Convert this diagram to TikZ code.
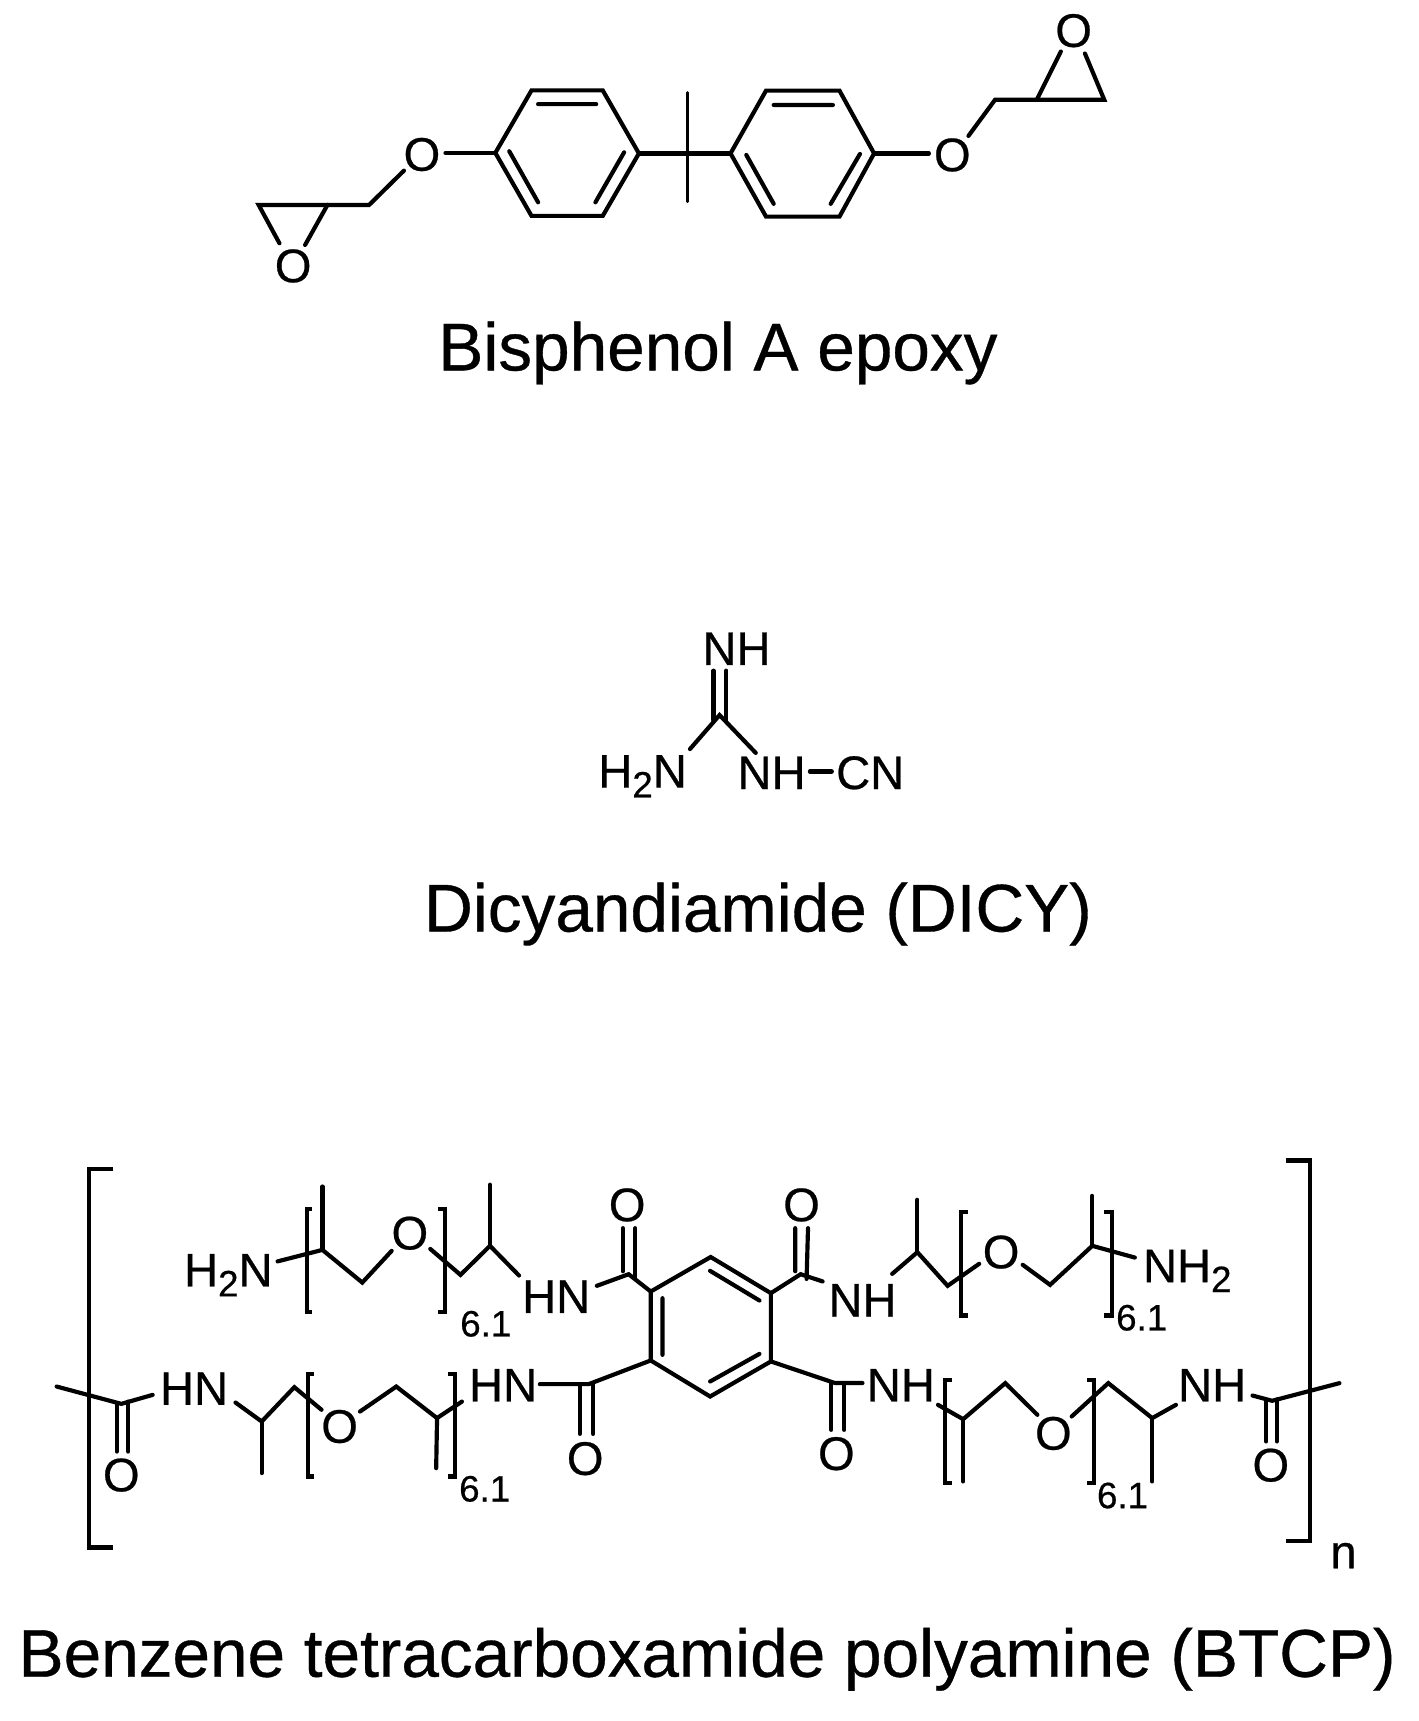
\documentclass[tikz,border=0pt]{standalone}
\usepackage{fontspec}
\setmainfont{Liberation Sans}[FakeBold=0.5,AutoFakeBold=0.5]
\newfontfamily\hvy{Liberation Sans}[RawFeature={embolden=0.5}]
\newcommand{\lblfont}{\hvy\fontsize{43}{43}\selectfont}
\newcommand{\subfont}{\hvy\fontsize{33.5}{33.5}\selectfont}
\newcommand{\ttlfont}{\hvy\fontsize{61.6}{61.6}\selectfont}
\newcommand{\subtwo}{\raisebox{-9pt}{\subfont 2}}
\tikzset{
  bond/.style={draw=black,line width=3.8pt,line cap=round,line join=miter},
  atom/.style={inner sep=0pt,outer sep=0pt,font=\lblfont,anchor=base west},
  oxy/.style={inner sep=0pt,outer sep=0pt,font=\lblfont,anchor=center},
  rpt/.style={inner sep=0pt,outer sep=0pt,font=\subfont,anchor=base west},
  ttl/.style={inner sep=0pt,outer sep=0pt,font=\ttlfont,anchor=base west}
}
\begin{document}
\begin{tikzpicture}[x=1pt,y=-1pt]
\useasboundingbox[fill=white] (0,0) rectangle (1294,1570.4);
% ---------- Bisphenol A epoxy ----------
\coordinate (a1) at (452,139.5);\coordinate (a2) at (485,82.5);\coordinate (a3) at (550,82.5);
\coordinate (a4) at (583,140);\coordinate (a5) at (550,197);\coordinate (a6) at (485,197);
\coordinate (b1) at (666.6,140);\coordinate (b2) at (699,82.7);\coordinate (b3) at (766,82.7);
\coordinate (b4) at (797.6,140);\coordinate (b5) at (766,197.7);\coordinate (b6) at (699,197.7);
\coordinate (ai1) at (491,95);\coordinate (ai2) at (544,95);
\coordinate (ai3) at (464.7,138);\coordinate (ai4) at (491,184.6);
\coordinate (ai5) at (569.5,139);\coordinate (ai6) at (543.3,184.6);
\coordinate (bi1) at (706,95.8);\coordinate (bi2) at (760,95.8);
\coordinate (bi3) at (681,141.4);\coordinate (bi4) at (706,186);
\coordinate (bi5) at (784.7,140.5);\coordinate (bi6) at (758,186);
\coordinate (ct) at (627,84.6);\coordinate (cb) at (627,184);
\node[oxy] (oa) at (385,141) {O};
\node[oxy] (ob) at (869,141.4) {O};
\node[oxy] (oc) at (267.5,242.7) {O};
\node[oxy] (od) at (979.7,28) {O};
\coordinate (oar) at (406.5,139.5);\coordinate (oal) at (368.6,155.7);
\coordinate (ach) at (336.8,187);\coordinate (ae1) at (298.8,187);\coordinate (ae2) at (236,187);
\coordinate (ae1o) at (278.4,223.5);\coordinate (ae2o) at (255,222);
\coordinate (obl) at (847.6,140);\coordinate (obr) at (883.7,124);
\coordinate (bch) at (908,91);\coordinate (be1) at (946,91);\coordinate (be2) at (1007.6,91);
\coordinate (be1o) at (968,47);\coordinate (be2o) at (990,48.8);
\draw[bond] (a1)--(a2)--(a3)--(a4)--(a5)--(a6)--cycle;
\draw[bond] (b1)--(b2)--(b3)--(b4)--(b5)--(b6)--cycle;
\draw[bond] (ai1)--(ai2) (ai3)--(ai4) (ai5)--(ai6);
\draw[bond] (bi1)--(bi2) (bi3)--(bi4) (bi5)--(bi6);
\draw[bond] (a4)--(b1);
\draw[bond,line width=2.8pt] (ct)--(cb);
\draw[bond] (a1)--(oar);
\draw[bond] (oal)--(ach)--(ae1);
\draw[bond] (ae1)--(ae2)--(ae2o);
\draw[bond] (ae1)--(ae1o);
\draw[bond] (b4)--(obl);
\draw[bond] (obr)--(bch)--(be1)--(be2)--(be2o);
\draw[bond] (be1)--(be1o);
\node[ttl] (t1) at (400,338) {Bisphenol A epoxy};
% ---------- DICY ----------
\node[atom] (d1) at (641,606.8) {NH};
\node[atom] (d2) at (546,718.7) {H\subtwo N};
\node[atom] (d3) at (673,720) {NH};
\node[atom] (d4) at (763,720) {CN};
\coordinate (dc) at (656.6,652.5);
\coordinate (dl1) at (651,612);\coordinate (dl2) at (651,657);
\coordinate (dr1) at (662.7,612);\coordinate (dr2) at (662.7,657);
\coordinate (dh) at (629.6,683.5);\coordinate (dn) at (689.6,687);
\coordinate (dd1) at (739,704);\coordinate (dd2) at (759,704);
\draw[bond] (dl1)--(dl2) (dr1)--(dr2);
\draw[bond] (dh)--(dc)--(dn);
\draw[bond] (dd1)--(dd2);
\node[ttl] (t2) at (387,850) {Dicyandiamide (DICY)};
% ---------- BTCP brackets ----------
\coordinate (lb1) at (103,1067);\coordinate (lb2) at (81,1067);\coordinate (lb3) at (81,1412);\coordinate (lb4) at (103,1412);
\coordinate (rb1) at (1173.4,1059);\coordinate (rb2) at (1195,1059);\coordinate (rb3) at (1195,1406);\coordinate (rb4) at (1173.4,1406);
\draw[bond,line cap=butt] (lb1)--(lb2)--(lb3)--(lb4);
\draw[bond,line cap=butt] (rb1)--(rb2)--(rb3)--(rb4);
\node[atom] (nn) at (1214,1431) {n};
% ---------- central ring ----------
\coordinate (r1) at (593.8,1178.5);\coordinate (r2) at (648.5,1147);\coordinate (r3) at (703.4,1180);
\coordinate (r4) at (703.4,1242.3);\coordinate (r5) at (648,1274.3);\coordinate (r6) at (593.8,1241.4);
\coordinate (ri1) at (604.5,1184.6);\coordinate (ri2) at (604.5,1236.3);
\coordinate (ri3) at (647.9,1159.6);\coordinate (ri4) at (693,1186.7);
\coordinate (ri5) at (693,1235.4);\coordinate (ri6) at (648,1260.6);
\draw[bond] (r1)--(r2)--(r3)--(r4)--(r5)--(r6)--cycle;
\draw[bond] (ri1)--(ri2) (ri3)--(ri4) (ri5)--(ri6);
% ---------- upper left arm ----------
\node[atom] (e1) at (168,1173.9) {H\subtwo N};
\coordinate (e1b) at (253.3,1151);\coordinate (e2) at (294.2,1140.5);\coordinate (e2m) at (294.2,1082.7);
\coordinate (e3) at (330.6,1170.3);\coordinate (e3o) at (357.4,1141.4);
\node[oxy] (e4) at (374,1125.3) {O};
\coordinate (e4r) at (392.6,1139.6);\coordinate (e5) at (420.2,1163.3);\coordinate (e6) at (447.1,1136.8);
\coordinate (e6m) at (447.1,1081);\coordinate (e6h) at (473.6,1163.9);
\node[atom] (e7) at (476.5,1198) {HN};
\coordinate (e7b) at (544.6,1173.3);\coordinate (e8) at (573.6,1162.7);
\coordinate (e8a) at (568.2,1120.7);\coordinate (e8b) at (568.2,1160);\coordinate (e8c) at (579.8,1120.7);\coordinate (e8d) at (579.8,1167);
\node[oxy] (e9) at (572.3,1099.5) {O};
\draw[bond] (e1b)--(e2)--(e3)--(e3o);
\draw[bond] (e2)--(e2m);
\draw[bond] (e4r)--(e5)--(e6)--(e6h);
\draw[bond] (e6)--(e6m);
\draw[bond] (e7b)--(e8)--(r1);
\draw[bond] (e8a)--(e8b) (e8c)--(e8d);
\coordinate (eL1) at (285.1,1103);\coordinate (eL2) at (279.8,1103);\coordinate (eL3) at (279.8,1197.3);\coordinate (eL4) at (285.1,1197.3);
\coordinate (eR1) at (400,1103);\coordinate (eR2) at (406.2,1103);\coordinate (eR3) at (406.2,1197.3);\coordinate (eR4) at (400,1197.3);
\draw[bond,line cap=butt] (eL1)--(eL2)--(eL3)--(eL4);
\draw[bond,line cap=butt] (eR1)--(eR2)--(eR3)--(eR4);
\node[rpt] (e10) at (420,1219.5) {6.1};
% ---------- upper right arm ----------
\coordinate (f1) at (730.6,1162.7);
\coordinate (f1a) at (725.6,1120.7);\coordinate (f1b) at (725.6,1160);\coordinate (f1c) at (737.3,1120.7);\coordinate (f1d) at (736,1167);
\node[oxy] (f2) at (731.4,1099.5) {O};
\coordinate (f1n) at (750.6,1169.3);
\node[atom] (f3) at (756,1201.3) {NH};
\coordinate (f3r) at (814.1,1162.4);\coordinate (f4) at (837.1,1142.6);\coordinate (f4m) at (837.1,1094.8);
\coordinate (f5) at (864.7,1173.3);\coordinate (f5o) at (893.5,1153.2);
\node[oxy] (f6) at (913.5,1142.5) {O};
\coordinate (f6r) at (933.2,1154.1);\coordinate (f7) at (958.2,1172.4);\coordinate (f8) at (996.7,1136.8);
\coordinate (f8m) at (996.7,1091.2);\coordinate (f8n) at (1035.5,1147.5);
\node[atom] (f9) at (1043,1170) {NH\subtwo};
\draw[bond] (r3)--(f1)--(f1n);
\draw[bond] (f1a)--(f1b) (f1c)--(f1d);
\draw[bond] (f3r)--(f4)--(f5)--(f5o);
\draw[bond] (f4)--(f4m);
\draw[bond] (f6r)--(f7)--(f8)--(f8n);
\draw[bond] (f8)--(f8m);
\coordinate (fL1) at (883,1106);\coordinate (fL2) at (876.8,1106);\coordinate (fL3) at (876.8,1200.4);\coordinate (fL4) at (883,1200.4);
\coordinate (fR1) at (1007.5,1106);\coordinate (fR2) at (1014.6,1106);\coordinate (fR3) at (1014.6,1200.4);\coordinate (fR4) at (1007.5,1200.4);
\draw[bond,line cap=butt] (fL1)--(fL2)--(fL3)--(fL4);
\draw[bond,line cap=butt] (fR1)--(fR2)--(fR3)--(fR4);
\node[rpt] (f10) at (1018.5,1214) {6.1};
% ---------- lower left arm ----------
\coordinate (g0) at (51.7,1265.2);\coordinate (g1) at (110.7,1281);\coordinate (g1n) at (139.3,1272.8);
\coordinate (g1a) at (106.6,1281);\coordinate (g1b) at (106.6,1324.5);\coordinate (g1c) at (117,1279);\coordinate (g1d) at (117,1324.5);
\node[oxy] (g2) at (110.7,1346) {O};
\node[atom] (g3) at (146,1281.9) {HN};
\coordinate (g3r) at (214.9,1279.8);\coordinate (g4) at (238.8,1297.1);\coordinate (g4m) at (238.8,1344.2);
\coordinate (g5) at (268.6,1265.8);\coordinate (g5o) at (293.4,1286.4);
\node[oxy] (g6) at (309.9,1301.7) {O};
\coordinate (g6r) at (328.5,1288);\coordinate (g7) at (361.6,1265.2);\coordinate (g8) at (398.8,1294);
\coordinate (g8m) at (398,1339.7);\coordinate (g8n) at (421.5,1278.9);
\node[atom] (g9) at (428,1278.8) {HN};
\coordinate (g9r) at (492.6,1263);\coordinate (g10) at (537.2,1263);
\coordinate (g10a) at (529,1263);\coordinate (g10b) at (529,1308.4);\coordinate (g10c) at (541.3,1262);\coordinate (g10d) at (541.3,1308.4);
\node[oxy] (g11) at (534,1331) {O};
\draw[bond] (g0)--(g1)--(g1n);
\draw[bond] (g1a)--(g1b) (g1c)--(g1d);
\draw[bond] (g3r)--(g4)--(g5)--(g5o);
\draw[bond] (g4)--(g4m);
\draw[bond] (g6r)--(g7)--(g8)--(g8n);
\draw[bond] (g8)--(g8m);
\draw[bond] (g9r)--(g10)--(r6);
\draw[bond] (g10a)--(g10b) (g10c)--(g10d);
\coordinate (gL1) at (286.4,1253.9);\coordinate (gL2) at (281,1253.9);\coordinate (gL3) at (281,1347.3);\coordinate (gL4) at (286.4,1347.3);
\coordinate (gR1) at (409,1253.9);\coordinate (gR2) at (415.3,1253.9);\coordinate (gR3) at (415.3,1347.3);\coordinate (gR4) at (409,1347.3);
\draw[bond,line cap=butt] (gL1)--(gL2)--(gL3)--(gL4);
\draw[bond,line cap=butt] (gR1)--(gR2)--(gR3)--(gR4);
\node[rpt] (g12) at (419,1370.1) {6.1};
% ---------- lower right arm ----------
\coordinate (h1) at (761.9,1262);\coordinate (h1n) at (787,1262);
\coordinate (h1a) at (758.6,1262);\coordinate (h1b) at (758.6,1304.7);\coordinate (h1c) at (770.3,1262);\coordinate (h1d) at (770.3,1304.7);
\node[oxy] (h2) at (763.2,1326.5) {O};
\node[atom] (h3) at (791,1278.8) {NH};
\coordinate (h3r) at (855.9,1281.9);\coordinate (h4) at (878.9,1295);\coordinate (h4m) at (878.9,1351.8);
\coordinate (h5) at (917.3,1262.1);\coordinate (h5o) at (946.6,1291);
\node[oxy] (h6) at (961.2,1308) {O};
\coordinate (h6r) at (977.9,1292.5);\coordinate (h7) at (1011.3,1262.1);\coordinate (h8) at (1051.4,1294);
\coordinate (h8m) at (1051.4,1351.8);\coordinate (h8n) at (1073,1281.9);
\node[atom] (h9) at (1075,1278.8) {NH};
\coordinate (h9r) at (1142.9,1273.4);\coordinate (h10) at (1160.8,1278.2);\coordinate (h11) at (1222.2,1262.1);
\coordinate (h10a) at (1155.4,1279);\coordinate (h10b) at (1155.4,1315.3);\coordinate (h10c) at (1165,1277);\coordinate (h10d) at (1165,1315.3);
\node[oxy] (h12) at (1159.6,1337) {O};
\draw[bond] (r4)--(h1)--(h1n);
\draw[bond] (h1a)--(h1b) (h1c)--(h1d);
\draw[bond] (h3r)--(h4)--(h5)--(h5o);
\draw[bond] (h4)--(h4m);
\draw[bond] (h6r)--(h7)--(h8)--(h8n);
\draw[bond] (h8)--(h8m);
\draw[bond] (h9r)--(h10)--(h11);
\draw[bond] (h10a)--(h10b) (h10c)--(h10d);
\coordinate (hL1) at (868.4,1259);\coordinate (hL2) at (862.2,1259);\coordinate (hL3) at (862.2,1353.4);\coordinate (hL4) at (868.4,1353.4);
\coordinate (hR1) at (991.7,1259);\coordinate (hR2) at (998,1259);\coordinate (hR3) at (998,1353.4);\coordinate (hR4) at (991.7,1353.4);
\draw[bond,line cap=butt] (hL1)--(hL2)--(hL3)--(hL4);
\draw[bond,line cap=butt] (hR1)--(hR2)--(hR3)--(hR4);
\node[rpt] (h13) at (1001,1376.2) {6.1};
\node[ttl] (t3) at (17,1530) {Benzene tetracarboxamide polyamine (BTCP)};
\end{tikzpicture}
\end{document}
